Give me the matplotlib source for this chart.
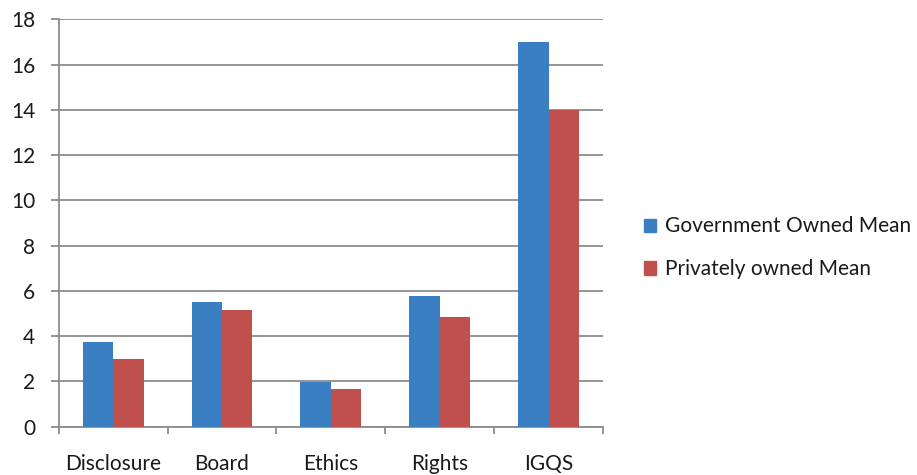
import matplotlib
matplotlib.use("Agg")
import matplotlib.pyplot as plt
import numpy as np
from matplotlib.patches import Patch

plt.rcParams['font.family'] = ['Lato', 'DejaVu Sans']

# values
categories = ['Disclosure', 'Board', 'Ethics', 'Rights', 'IGQS']
gov_mean = [3.76, 5.51, 1.99, 5.78, 17.0]
priv_mean = [3.0, 5.16, 1.67, 4.86, 13.98]
series_names = ['Government Owned Mean', 'Privately owned Mean']
yticks = [0, 2, 4, 6, 8, 10, 12, 14, 16, 18]

blue = '#3A7FC1'
red = '#C0504D'
grid_col = '#8C8C8C'

fig = plt.figure(figsize=(9.17, 4.75), dpi=100)
ax = fig.add_axes([0.064, 0.1017, 0.5936, 0.8573])

x = np.arange(len(categories))
w = 0.28
ax.bar(x - w / 2, gov_mean, w, color=blue, zorder=3)
ax.bar(x + w / 2, priv_mean, w, color=red, zorder=3)

ax.set_xlim(-0.5, len(categories) - 0.5)
ax.set_ylim(0, 18)
ax.set_yticks(yticks)
ax.set_xticks(x)
ax.set_xticklabels(categories)
ax.set_xticks(np.arange(-0.5, len(categories)), minor=True)

ax.yaxis.grid(True, color=grid_col, linewidth=1.3, zorder=0)
for s in ['top', 'right']:
    ax.spines[s].set_visible(False)
for s in ['left', 'bottom']:
    ax.spines[s].set_color(grid_col)
    ax.spines[s].set_linewidth(1.3)

ax.tick_params(axis='y', length=6, width=1.3, color=grid_col, pad=11,
               labelsize=15, labelcolor='#1a1a1a')
ax.tick_params(axis='x', which='major', length=0, pad=20,
               labelsize=15, labelcolor='#1a1a1a')
ax.tick_params(axis='x', which='minor', length=5, width=1.3, color=grid_col)

handles = [Patch(color=blue), Patch(color=red)]
fig.legend(handles, series_names, loc='center left', bbox_to_anchor=(0.6815, 0.478),
           frameon=False, fontsize=15, handlelength=0.6, handleheight=0.6,
           handletextpad=0.4, labelspacing=1.1, labelcolor='#1a1a1a')

fig.savefig('out.png', dpi=100)
